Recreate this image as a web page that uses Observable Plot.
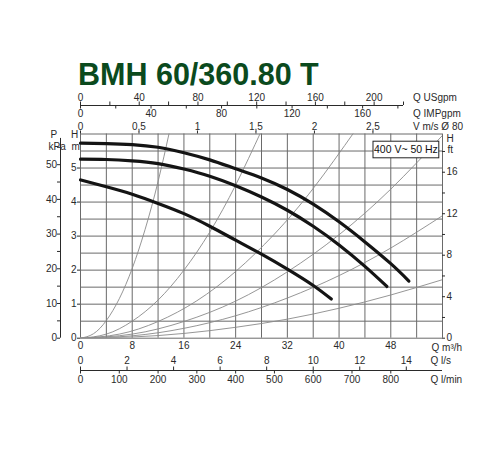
<!DOCTYPE html>
<html><head><meta charset="utf-8">
<script src="https://cdn.jsdelivr.net/npm/d3@7"></script>
<script src="https://cdn.jsdelivr.net/npm/@observablehq/plot@0.6"></script>
<style>
body{margin:0;background:#fff;}
#title{height:28px;padding:60px 0 0 78px;font:bold 30.5px "Liberation Sans",Arial,sans-serif;line-height:28px;color:#0b4a1d;white-space:nowrap;}
</style></head><body>
<div id="title">BMH 60/360.80 T</div>
<div id="chart"></div>
<script>
// ---- data (Q in m3/h, H in m) ----
const pumpQ1 = [0,4,8,12,16,20,24,28,32,36,40,44,48,50.8];
const pumpH1 = [5.73,5.72,5.69,5.61,5.45,5.24,4.98,4.71,4.37,3.94,3.42,2.83,2.19,1.68];
const pumpQ2 = [0,4,8,12,16,20,24,28,32,36,40,44,47.4];
const pumpH2 = [5.26,5.25,5.21,5.13,4.97,4.76,4.48,4.15,3.76,3.29,2.74,2.11,1.52];
const pumpQ3 = [0,4,8,12,16,20,24,28,32,36,38.8];
const pumpH3 = [4.65,4.45,4.23,3.96,3.66,3.29,2.88,2.47,2.03,1.55,1.15];

const sysAQ = [0,2,4,6,8,10,12,13.8];
const sysAH = [0,0.13,0.52,1.16,2.05,3.2,4.6,6.1];
const sysBQ = [0,4,8,12,16,20,24,28];
const sysBH = [0,0.12,0.5,1.12,2.0,3.12,4.5,6.1];
const sysCQ = [0,6,12,18,24,30,36,42.5];
const sysCH = [0,0.12,0.49,1.1,1.96,3.06,4.4,6.1];
const sysDQ = [0,8,16,24,32,40,48,56];
const sysDH = [0,0.12,0.49,1.09,1.95,3.04,4.38,5.96];
const sysEQ = [0,8,16,24,32,40,48,56];
const sysEH = [0,0.07,0.29,0.66,1.18,1.84,2.65,3.6];
const sysFQ = [0,8,16,24,32,40,48,56];
const sysFH = [0,0.035,0.14,0.32,0.56,0.88,1.27,1.72];

// grid and tick labels
const qGrid = [0,4,8,12,16,20,24,28,32,36,40,44,48,52,56];
const hGrid = [0,0.5,1,1.5,2,2.5,3,3.5,4,4.5,5,5.5,6];
const qLabels = [0,8,16,24,32,40,48];
const hLabels = [0,1,2,3,4,5];
const kPaLabels = [0,10,20,30,40,50];
const kPaMinor = [5,15,25,35,45,55];
const ftLabels = [0,4,8,12,16];
const ftMinor = [2,6,10,14,18];
const usLabels = [0,40,80,120,160,200];
const usMinor = [20,60,100,140,180,220];
const impLabels = [0,40,80,120,160];
const impMinor = [20,60,100,140,180];
const velLabels = [0,0.5,1,1.5,2,2.5];
const lsLabels = [0,2,4,6,8,10,12,14];
const lminLabels = [0,100,200,300,400,500,600,700,800];

// unit conversions to m3/h and m
const US = 4.4029, IMP = 3.6662, VQ = 18.0956, LS = 3.6, LMIN = 0.06, KPA = 9.80665, FT = 0.3048;

const pump = [
  ...pumpQ1.map((q,i)=>({c:"n1", q, h:pumpH1[i]})),
  ...pumpQ2.map((q,i)=>({c:"n2", q, h:pumpH2[i]})),
  ...pumpQ3.map((q,i)=>({c:"n3", q, h:pumpH3[i]}))
];
const sysList = [[sysAQ,sysAH],[sysBQ,sysBH],[sysCQ,sysCH],[sysDQ,sysDH],[sysEQ,sysEH],[sysFQ,sysFH]];
const sys = sysList.flatMap(([Q,Hs],k)=>Q.map((q,i)=>({c:k, q, h:Hs[i]})));

const W = 500, HT = 362, ml = 80, mr = 58, mt = 45.5, mb = 112.3;
const FW = W - ml - mr, FH = HT - mt - mb;
const grid = "#6a6a6a", ink = "#2a2a2a";
const fmtC = v => String(v).replace(".", ",");

const chart = Plot.plot({
  width: W, height: HT,
  marginLeft: ml, marginRight: mr, marginTop: mt, marginBottom: mb,
  x: {domain: [0, 56], axis: null},
  y: {domain: [0, 6], axis: null},
  style: {fontFamily: "'Liberation Sans',Arial,sans-serif", fontSize: "10px", color: ink, background: "#fff", overflow: "visible"},
  marks: [
    Plot.ruleX(qGrid, {stroke: grid, strokeWidth: 1}),
    Plot.ruleY(hGrid, {stroke: grid, strokeWidth: 1}),
    Plot.line(sys, {x: "q", y: "h", z: "c", stroke: "#8a8a8a", strokeWidth: 0.9, curve: "natural", clip: true}),
    Plot.line(pump, {x: "q", y: "h", z: "c", stroke: "#141414", strokeWidth: 3.2, curve: "natural"}),
    // legend box
    Plot.frame({fill: "#fff", stroke: "#222", strokeWidth: 1, insetLeft: 292.5, insetRight: 3.7, insetTop: 7.2, insetBottom: 180.4}),
    Plot.text(["400 V~ 50 Hz"], {text: d => d, frameAnchor: "top-right", dx: -36.6, dy: 15.5, textAnchor: "middle", lineAnchor: "middle", fontSize: 10.5, fill: "#111"}),

    // bottom: Q m3/h
    Plot.text(qLabels, {x: d => d, text: d => d, frameAnchor: "bottom", dy: 8, lineAnchor: "middle", fill: ink}),
    Plot.text(["Q m³/h"], {text: d => d, frameAnchor: "bottom-right", dx: -11, dy: 10, textAnchor: "start", lineAnchor: "middle", fill: ink}),
    // bottom: l/s and l/min
    Plot.ruleY([0], {x1: 0, x2: 56, dy: 32.3, stroke: ink, strokeWidth: 1}),
    Plot.tickX(lsLabels, {x: d => d * LS, insetTop: FH + 28.8, insetBottom: -32.3, stroke: ink}),
    Plot.tickX(lminLabels, {x: d => d * LMIN, insetTop: FH + 32.3, insetBottom: -35.8, stroke: ink}),
    Plot.text(lsLabels, {x: d => d * LS, text: d => d, frameAnchor: "bottom", dy: 23, lineAnchor: "middle", fill: ink}),
    Plot.text(lminLabels, {x: d => d * LMIN, text: d => d, frameAnchor: "bottom", dy: 41.6, lineAnchor: "middle", fill: ink}),
    Plot.text(["Q l/s"], {text: d => d, frameAnchor: "bottom-right", dx: -12, dy: 23, textAnchor: "start", lineAnchor: "middle", fill: ink}),
    Plot.text(["Q l/min"], {text: d => d, frameAnchor: "bottom-right", dx: -12, dy: 41.6, textAnchor: "start", lineAnchor: "middle", fill: ink}),

    // top: velocity
    Plot.tickX(velLabels, {x: d => d * VQ, insetTop: -3, insetBottom: FH, stroke: ink}),
    Plot.text(velLabels, {x: d => d * VQ, text: fmtC, frameAnchor: "top", dy: -7.5, lineAnchor: "middle", fill: ink}),
    Plot.text(["V m/s Ø 80"], {text: d => d, frameAnchor: "top-right", dx: -29.5, dy: -7.5, textAnchor: "start", lineAnchor: "middle", fill: ink}),
    // top: USgpm / IMPgpm
    Plot.ruleY([6], {x1: 0, x2: d3.max(usMinor) / US, dy: -28.5, stroke: ink, strokeWidth: 1}),
    Plot.tickX([...usLabels, ...usMinor], {x: d => d / US, insetTop: -32, insetBottom: FH + 28.5, stroke: ink}),
    Plot.tickX([...impLabels, ...impMinor], {x: d => d / IMP, insetTop: -28.5, insetBottom: FH + 25, stroke: ink}),
    Plot.text(usLabels, {x: d => d / US, text: d => d, frameAnchor: "top", dy: -36.5, lineAnchor: "middle", fill: ink}),
    Plot.text(impLabels, {x: d => d / IMP, text: d => d, frameAnchor: "top", dy: -20.2, lineAnchor: "middle", fill: ink}),
    Plot.text(["Q USgpm"], {text: d => d, frameAnchor: "top-right", dx: -29.5, dy: -36.5, textAnchor: "start", lineAnchor: "middle", fill: ink}),
    Plot.text(["Q IMPgpm"], {text: d => d, frameAnchor: "top-right", dx: -29.5, dy: -20.2, textAnchor: "start", lineAnchor: "middle", fill: ink}),

    // left: H m
    Plot.tickY(hLabels, {y: d => d, insetLeft: -3, insetRight: FW, stroke: ink}),
    Plot.text(hLabels, {y: d => d, text: d => d, frameAnchor: "left", dx: -4, textAnchor: "end", lineAnchor: "middle", fill: ink}),
    Plot.text(["H"], {text: d => d, frameAnchor: "top-left", dx: -9.5, dy: 0.5, lineAnchor: "middle", fill: ink}),
    Plot.text(["m"], {text: d => d, frameAnchor: "top-left", dx: -9, dy: 12.5, lineAnchor: "middle", fill: ink}),
    // left: P kPa
    Plot.ruleX([0], {y1: 0, y2: 5.87, dx: -20, stroke: ink, strokeWidth: 1}),
    Plot.tickY([...kPaLabels, ...kPaMinor], {y: d => d / KPA, insetLeft: -23, insetRight: FW + 20, stroke: ink}),
    Plot.text(kPaLabels, {y: d => d / KPA, text: d => d, frameAnchor: "left", dx: -23.5, textAnchor: "end", lineAnchor: "middle", fill: ink}),
    Plot.text(["P"], {text: d => d, frameAnchor: "top-left", dx: -30, dy: 0.5, lineAnchor: "middle", fill: ink}),
    Plot.text(["kPa"], {text: d => d, frameAnchor: "top-left", dx: -32, dy: 12.5, lineAnchor: "middle", fill: ink}),
    // right: H ft
    Plot.tickY([...ftLabels, ...ftMinor], {y: d => d * FT, insetLeft: FW, insetRight: -3, stroke: ink}),
    Plot.text(ftLabels, {y: d => d * FT, text: d => d, frameAnchor: "right", dx: 4, textAnchor: "start", lineAnchor: "middle", fill: ink}),
    Plot.text(["H"], {text: d => d, frameAnchor: "top-right", dx: 4, dy: 4.5, textAnchor: "start", lineAnchor: "middle", fill: ink}),
    Plot.text(["ft"], {text: d => d, frameAnchor: "top-right", dx: 5, dy: 15.5, textAnchor: "start", lineAnchor: "middle", fill: ink})
  ]
});
document.getElementById("chart").appendChild(chart);
</script></body></html>
